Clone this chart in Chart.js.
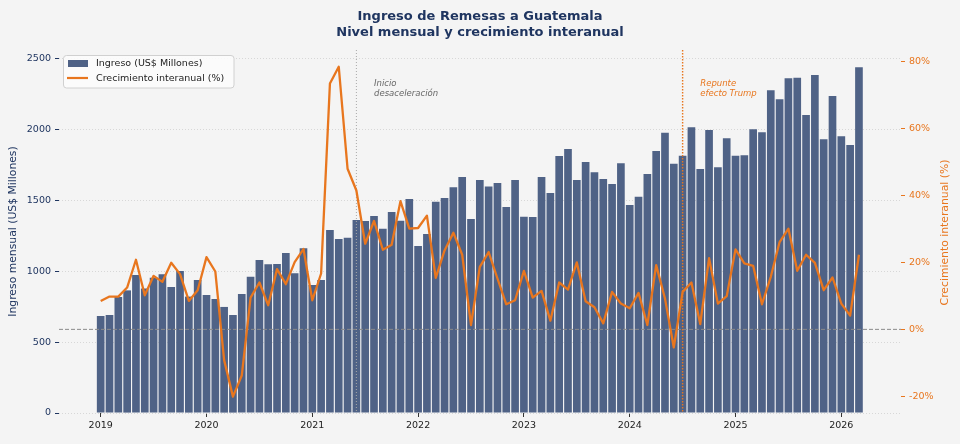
<!DOCTYPE html>
<html><head><meta charset="utf-8">
<style>html,body{margin:0;padding:0;background:#f4f4f4;overflow:hidden}canvas{display:block}</style>
<script src="https://cdn.jsdelivr.net/npm/chart.js@4.4.1/dist/chart.umd.min.js"></script>
</head><body>
<canvas id="c" width="960" height="444" style="width:960px;height:444px"></canvas>
<script>
// ---- data ----
const startYear = 2019;            // first month: January 2019
const yearTicks = [2019, 2020, 2021, 2022, 2023, 2024, 2025, 2026];
const ingresoTicks = [0, 500, 1000, 1500, 2000, 2500];
const crecTicks = [-20, 0, 20, 40, 60, 80];

// Ingreso mensual (US$ Millones), Jan 2019 .. Mar 2026
const ingreso2019 = [685, 692, 820, 866, 974, 880, 955, 980, 890, 1003, 822, 940];
const ingreso2020 = [833, 805, 749, 692, 840, 963, 1080, 1050, 1052, 1130, 987, 1163];
const ingreso2021 = [904, 939, 1292, 1229, 1238, 1363, 1356, 1391, 1302, 1420, 1358, 1511];
const ingreso2022 = [1179, 1264, 1492, 1518, 1594, 1667, 1370, 1645, 1600, 1625, 1455, 1645];
const ingreso2023 = [1386, 1384, 1667, 1554, 1815, 1864, 1645, 1773, 1700, 1652, 1617, 1763];
const ingreso2024 = [1469, 1528, 1688, 1850, 1980, 1761, 1817, 2018, 1723, 1999, 1735, 1940];
const ingreso2025 = [1817, 1820, 2003, 1982, 2279, 2215, 2364, 2368, 2105, 2387, 1933, 2239];
const ingreso2026 = [1954, 1893, 2441];

// Crecimiento interanual (%)
const crec2019 = [8.5, 9.8, 9.8, 12.5, 20.8, 10.2, 16.0, 14.2, 19.9, 16.5, 8.5, 11.7];
const crec2020 = [21.6, 17.3, -9.2, -20.1, -13.8, 9.5, 14.0, 7.2, 18.0, 13.5, 20.1, 24.0];
const crec2021 = [8.7, 16.7, 73.5, 78.5, 48.0, 41.5, 25.6, 32.4, 23.8, 25.3, 38.3, 30.1];
const crec2022 = [30.3, 34.0, 15.4, 23.6, 28.9, 22.3, 1.3, 18.7, 23.1, 15.2, 7.5, 8.7];
const crec2023 = [17.5, 9.5, 11.5, 2.6, 14.0, 11.9, 20.0, 8.4, 6.6, 1.8, 11.2, 7.7];
const crec2024 = [6.3, 10.9, 1.3, 19.2, 9.2, -5.4, 11.2, 14.0, 1.6, 21.3, 7.7, 9.9];
const crec2025 = [23.9, 19.7, 19.0, 7.5, 15.7, 26.1, 30.1, 17.5, 22.3, 19.9, 11.7, 15.5];
const crec2026 = [7.7, 4.1, 22.3];

const hitoMeses = ['2021-06', '2024-07'];
const hitoTextos = [['Inicio', 'desaceleración'], ['Repunte', 'efecto Trump']];

const titulo = ['Ingreso de Remesas a Guatemala', 'Nivel mensual y crecimiento interanual'];
const nombreBarras = 'Ingreso (US$ Millones)';
const nombreLinea = 'Crecimiento interanual (%)';
const tituloIzq = 'Ingreso mensual (US$ Millones)';
const tituloDer = 'Crecimiento interanual (%)';

// ---- build ----
const ingreso = [].concat(ingreso2019, ingreso2020, ingreso2021, ingreso2022, ingreso2023, ingreso2024, ingreso2025, ingreso2026);
const crecimiento = [].concat(crec2019, crec2020, crec2021, crec2022, crec2023, crec2024, crec2025, crec2026);
const mesX = ingreso.map((_, i) => startYear + i / 12);
const ymToX = s => { const [y, m] = s.split('-').map(Number); return y + (m - 1) / 12; };

const NAVY = '#1f3560', ORANGE = '#e8761e', BAR = '#4f6286', FONT = '"DejaVu Sans", sans-serif';

const bgPlugin = {
  id: 'bg',
  beforeDraw(c) { const ctx = c.ctx; ctx.save(); ctx.fillStyle = '#f4f4f4'; ctx.fillRect(0, 0, c.width, c.height); ctx.restore(); }
};

const refPlugin = {
  id: 'refs',
  beforeDatasetDraw(c, args) {
    if (args.index !== 1) return;
    const ctx = c.ctx, a = c.chartArea, xs = c.scales.x, y1 = c.scales.y1, y = c.scales.y;
    ctx.save();
    // zero line
    const y0 = y1.getPixelForValue(0);
    ctx.strokeStyle = '#8a8a8a'; ctx.lineWidth = 1; ctx.setLineDash([4, 2]);
    ctx.beginPath(); ctx.moveTo(a.left, y0); ctx.lineTo(a.right, y0); ctx.stroke();
    // vertical markers
    hitoMeses.forEach((m, k) => {
      const px = xs.getPixelForValue(ymToX(m));
      if (k === 0) { ctx.strokeStyle = '#a8a8a8'; ctx.lineWidth = 1; ctx.setLineDash([1, 2]); }
      else { ctx.strokeStyle = ORANGE; ctx.lineWidth = 1.4; ctx.setLineDash([1.5, 1.5]); }
      ctx.beginPath(); ctx.moveTo(px, a.top); ctx.lineTo(px, a.bottom); ctx.stroke();
      ctx.setLineDash([]);
      ctx.font = 'italic 8.5px ' + FONT;
      ctx.fillStyle = k === 0 ? '#666666' : ORANGE;
      ctx.textAlign = 'left'; ctx.textBaseline = 'alphabetic';
      const tx = xs.getPixelForValue(ymToX(m) + 2 / 12);
      const ty = y.getPixelForValue(2310);
      hitoTextos[k].forEach((t, j) => ctx.fillText(t, tx, ty + j * 10));
    });
    ctx.restore();
  }
};

const decoPlugin = {
  id: 'deco',
  afterDraw(c) {
    const ctx = c.ctx;
    ctx.save();
    // title
    ctx.fillStyle = NAVY; ctx.font = 'bold 13px ' + FONT; ctx.textAlign = 'center'; ctx.textBaseline = 'alphabetic';
    ctx.fillText(titulo[0], 480, 20);
    ctx.fillText(titulo[1], 480, 35.5);
    // axis titles
    ctx.font = '10.8px ' + FONT; ctx.textBaseline = 'middle';
    ctx.save(); ctx.translate(13.5, 231.5); ctx.rotate(-Math.PI / 2); ctx.fillStyle = NAVY; ctx.fillText(tituloIzq, 0, 0); ctx.restore();
    ctx.save(); ctx.translate(945.5, 232.5); ctx.rotate(-Math.PI / 2); ctx.fillStyle = ORANGE; ctx.fillText(tituloDer, 0, 0); ctx.restore();
    // legend
    ctx.beginPath();
    ctx.roundRect(63.5, 55.5, 170.5, 32.5, 3);
    ctx.fillStyle = 'rgba(252,252,252,0.9)'; ctx.fill();
    ctx.strokeStyle = '#d0d0d0'; ctx.lineWidth = 1; ctx.stroke();
    ctx.fillStyle = BAR; ctx.fillRect(68, 60, 20, 7);
    ctx.strokeStyle = ORANGE; ctx.lineWidth = 2.2; ctx.beginPath(); ctx.moveTo(67, 78); ctx.lineTo(88, 78); ctx.stroke();
    ctx.fillStyle = '#222'; ctx.font = '9.5px ' + FONT; ctx.textAlign = 'left'; ctx.textBaseline = 'middle';
    ctx.fillText(nombreBarras, 96, 64);
    ctx.fillText(nombreLinea, 96, 78.5);
    ctx.restore();
  }
};

new Chart(document.getElementById('c'), {
  type: 'bar',
  data: {
    datasets: [
      { type: 'bar', label: nombreBarras, data: ingreso.map((v, i) => ({ x: mesX[i], y: v })),
        backgroundColor: BAR, borderWidth: 0, barPercentage: 0.87, categoryPercentage: 1, yAxisID: 'y', order: 2 },
      { type: 'line', label: nombreLinea, data: crecimiento.map((v, i) => ({ x: mesX[i], y: v })),
        borderColor: ORANGE, borderWidth: 2.3, pointRadius: 0, tension: 0, fill: false,
        borderJoinStyle: 'round', yAxisID: 'y1', order: 1 }
    ]
  },
  options: {
    responsive: false, animation: false, devicePixelRatio: window.devicePixelRatio || 1,
    layout: { padding: { top: 50, left: 0, right: 0, bottom: 0 } },
    plugins: { legend: { display: false }, tooltip: { enabled: false }, title: { display: false } },
    scales: {
      x: {
        type: 'linear', min: 2018.606, max: 2026.564, offset: false,
        afterFit(s) { s.height = 31; },
        afterBuildTicks(s) { s.ticks = yearTicks.map(v => ({ value: v })); },
        grid: { offset: false, drawOnChartArea: false, drawTicks: true, tickLength: 4, tickColor: '#333', tickWidth: 1 },
        border: { display: false },
        ticks: { color: '#222', font: { family: FONT, size: 9.5 }, padding: 3, maxRotation: 0, autoSkip: false,
                 callback: v => String(v) }
      },
      y: {
        position: 'left', min: 0, max: 2563.5,
        afterFit(s) { s.width = 59; },
        afterBuildTicks(s) { s.ticks = ingresoTicks.map(v => ({ value: v })); },
        grid: { color: '#cfcfcf', lineWidth: 0.8, tickColor: NAVY, tickLength: 4, tickWidth: 1, tickBorderDash: [] },
        border: { display: false, dash: [1, 2] },
        ticks: { color: NAVY, font: { family: FONT, size: 9.5 }, padding: 4, callback: v => String(v) }
      },
      y1: {
        position: 'right', min: -25, max: 83.5,
        afterFit(s) { s.width = 59; },
        afterBuildTicks(s) { s.ticks = crecTicks.map(v => ({ value: v })); },
        grid: { drawOnChartArea: false, drawTicks: true, tickColor: ORANGE, tickLength: 4, tickWidth: 1 },
        border: { display: false },
        ticks: { color: ORANGE, font: { family: FONT, size: 9.5 }, padding: 4, callback: v => v + '%' }
      }
    }
  },
  plugins: [bgPlugin, refPlugin, decoPlugin]
});
</script>
</body></html>
